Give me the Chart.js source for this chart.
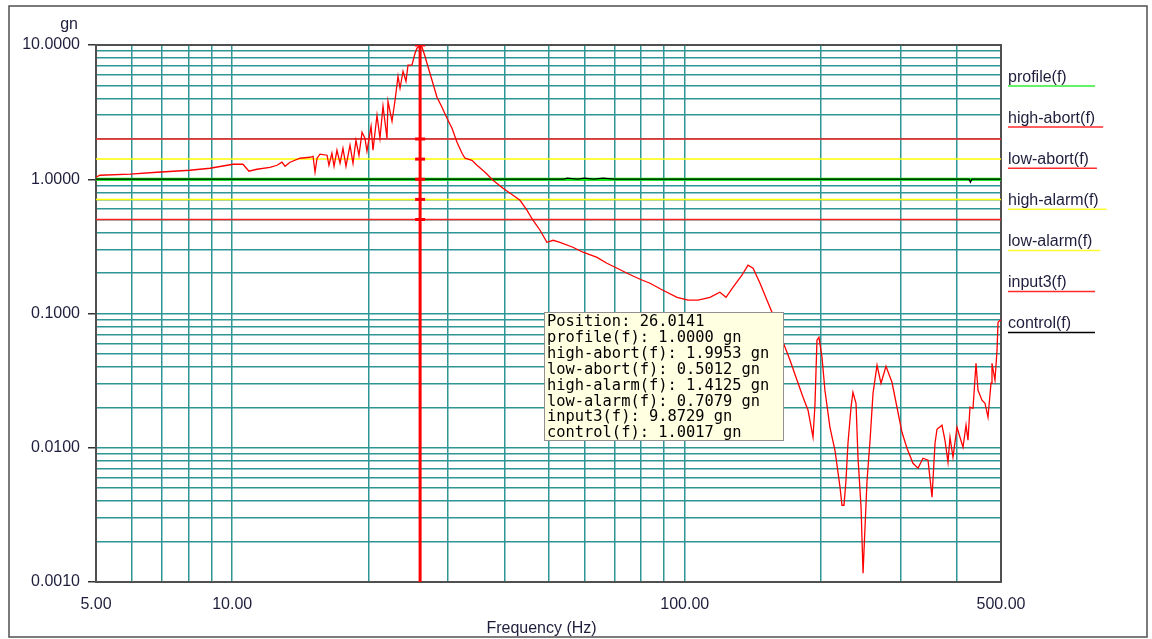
<!DOCTYPE html>
<html>
<head>
<meta charset="utf-8">
<script src="https://cdn.jsdelivr.net/npm/chart.js@4.4.1/dist/chart.umd.min.js"></script>
<style>
  body { margin: 0; background: #fff; }
  canvas { display: block; }
</style>
</head>
<body>
<canvas id="spectrumChart" width="1152" height="639"></canvas>
<script>
// axis ticks
const xTicks = [5, 6, 7, 8, 9, 10, 20, 30, 40, 50, 60, 70, 80, 90, 100, 200, 300, 400, 500];
const xLabels = [5, 10, 100, 500];
const yTicks = [0.001, 0.002, 0.003, 0.004, 0.005, 0.006, 0.007, 0.008, 0.009,
  0.01, 0.02, 0.03, 0.04, 0.05, 0.06, 0.07, 0.08, 0.09,
  0.1, 0.2, 0.3, 0.4, 0.5, 0.6, 0.7, 0.8, 0.9,
  1, 2, 3, 4, 5, 6, 7, 8, 9, 10];
const yLabels = [0.001, 0.01, 0.1, 1, 10];

// series
const seriesNames = ["profile(f)", "high-abort(f)", "low-abort(f)", "high-alarm(f)", "low-alarm(f)", "input3(f)", "control(f)"];
const seriesColors = ["#33ee33", "#ff2a2a", "#ff2a2a", "#ffff33", "#ffff33", "#ff2a2a", "#000000"];
const cursorFreq = 26.0141;
const cursorValues = [1.0, 1.9953, 0.5012, 1.4125, 0.7079, 9.8729, 1.0017];

const profileLevel = 1.0;
const highAbort = 1.9953;
const lowAbort = 0.5012;
const highAlarm = 1.4125;
const lowAlarm = 0.7079;

const controlFreq = [5, 40, 54, 55, 58, 60, 63, 66, 70, 300, 425, 428, 431, 500];
const controlGn = [1.0017, 1.0017, 1.0017, 1.02, 1.0017, 1.02, 1.0017, 1.02, 1.0017, 1.0017, 1.0017, 0.95, 1.0017, 1.0017];

const inputFreq = [5.00, 5.10, 5.95, 6.82, 8.06, 8.93, 10.04, 10.56, 10.89, 11.34, 12.12, 12.56, 12.88, 13.08, 13.42,
  14.12, 14.86, 15.09, 15.24, 15.40, 15.63, 16.20, 16.36, 16.61, 16.79, 17.04, 17.31, 17.57, 17.84, 18.21,
  18.49, 18.77, 19.06, 19.36, 19.65, 19.85, 20.27, 20.47, 20.89, 21.21, 21.54, 21.98, 22.09, 22.55, 22.90,
  23.25, 23.49, 23.85, 24.21, 24.46, 24.96, 25.35, 25.60, 26.0141, 26.27, 26.67, 26.94, 27.64, 28.35, 29.08,
  29.83, 30.6, 31.39, 32.2, 32.7, 33.87, 34.75, 36.2, 37.7, 39.67, 41.74, 43.25, 44.8, 46.2, 47.9,
  49.6, 51.2, 53.0, 56.6, 59.6, 64.0, 67.3, 70.9, 74.6, 79.7, 83.8, 89.5, 96.2, 101.7, 107.0,
  113.7, 119.6, 123.4, 127.9, 133.8, 138.0, 141.6, 146.7, 152.0, 155.9, 166.6, 170.9, 177.1, 182.6, 187.3,
  192.1, 194.0, 196.0, 198.0, 201.1, 204.1, 209.4, 214.8, 220.4, 222.6, 224.9, 227.2, 229.5, 233.1, 235.4,
  239.1, 241.5, 245.3, 247.8, 250.3, 252.9, 256.8, 260.7, 266.1, 271.5, 278.5, 287.1, 294.5, 302.1, 309.9,
  319.5, 327.8, 336.2, 344.9, 352.0, 357.4, 361.0, 370.3, 376.0, 381.8, 385.7, 391.6, 399.7, 405.8, 412.1,
  418.5, 422.7, 427.0, 433.6, 440.3, 444.8, 453.9, 460.9, 468.0, 475.2, 477.6, 484.9, 490.0, 492.5, 497.5, 500];
const inputGn = [1.035, 1.071, 1.09, 1.128, 1.167, 1.208, 1.293, 1.293, 1.147, 1.187, 1.228, 1.271, 1.339, 1.25, 1.339,
  1.434, 1.458, 1.483, 1.128, 1.434, 1.536, 1.51, 1.271, 1.562, 1.25, 1.644, 1.316, 1.701, 1.25, 1.792,
  1.316, 1.952, 1.51, 2.239, 2.02, 1.617, 2.482, 1.644, 2.997, 2.02, 3.499, 2.02, 3.811, 2.704, 3.877,
  5.85, 4.763, 6.375, 5.37, 7.07, 7.07, 8.68, 9.46, 9.8729, 9.62, 8.25, 7.31, 5.464, 4.08, 3.44,
  2.847, 2.399, 1.886, 1.562, 1.434, 1.385, 1.271, 1.128, 0.983, 0.857, 0.760, 0.697, 0.588, 0.495, 0.417,
  0.339, 0.351, 0.339, 0.3115, 0.286, 0.262, 0.2367, 0.2173, 0.1995, 0.18, 0.168, 0.149, 0.132, 0.1256, 0.1256,
  0.132, 0.144, 0.132, 0.157, 0.1927, 0.2288, 0.2173, 0.168, 0.1256, 0.1022, 0.05605, 0.04485, 0.03183, 0.02378, 0.01903,
  0.01198, 0.02073, 0.0632, 0.0665, 0.0472, 0.02682, 0.01421, 0.00958, 0.00508, 0.00373, 0.00373, 0.00572, 0.0108, 0.02003, 0.0259,
  0.02146, 0.0085, 0.0036, 0.00116, 0.00256, 0.00572, 0.01137, 0.02547, 0.04116, 0.03022, 0.04046, 0.03075, 0.02003, 0.01304, 0.00992,
  0.00766, 0.00704, 0.00835, 0.00807, 0.00428, 0.0108, 0.01373, 0.01471, 0.01137, 0.0078, 0.01198, 0.0085, 0.01421, 0.01198, 0.01009,
  0.01471, 0.01137, 0.02003, 0.01969, 0.0426, 0.02682, 0.0226, 0.02146, 0.01688, 0.03022, 0.0426, 0.03183, 0.05325, 0.0861, 0.0889, 0.089];

const pairs = (xs, ys) => xs.map((x, i) => ({ x: x, y: ys[i] }));
const flat = (v) => [{ x: 5, y: v }, { x: 500, y: v }];
const isIn = (list, v) => list.some((l) => Math.abs(l - v) / l < 1e-6);

const TEXT = "#1e1e3c";
const GRID = "#2f9696";
const FRAME = "#505050";

// frame, titles, legend and position readout
const decorations = {
  id: "decorations",
  beforeDatasetsDraw(chart) {
    const { ctx, chartArea: a } = chart;
    ctx.save();
    ctx.strokeStyle = FRAME;
    ctx.lineWidth = 2;
    ctx.strokeRect(a.left, a.top, a.right - a.left, a.bottom - a.top);
    ctx.restore();
  },
  afterDraw(chart) {
    const { ctx, chartArea: a } = chart;
    ctx.save();
    // outer border
    ctx.strokeStyle = FRAME;
    ctx.lineWidth = 1.5;
    ctx.strokeRect(9, 6, 1138, 631);

    ctx.fillStyle = TEXT;
    ctx.font = "16px 'Liberation Sans', Arial, sans-serif";
    ctx.textBaseline = "middle";
    ctx.textAlign = "right";
    ctx.fillText("gn", 78, 25);
    ctx.textAlign = "center";
    ctx.fillText("Frequency (Hz)", (a.left + a.right) / 2 - 7, 629);

    // legend
    ctx.textAlign = "left";
    ctx.textBaseline = "alphabetic";
    seriesNames.forEach((name, i) => {
      const y = 81.5 + i * 41.1;
      ctx.fillStyle = TEXT;
      ctx.fillText(name, 1008, y);
      const w = Math.max(ctx.measureText(name).width + 8, 87);
      ctx.strokeStyle = seriesColors[i];
      ctx.lineWidth = 1.5;
      ctx.beginPath();
      ctx.moveTo(1008, y + 4.5);
      ctx.lineTo(1008 + w, y + 4.5);
      ctx.stroke();
    });

    // position readout box
    const lines = ["Position: " + cursorFreq.toFixed(4)].concat(
      seriesNames.map((n, i) => n + ": " + cursorValues[i].toFixed(4) + " gn"));
    const bx = 544, by = 312, bw = 239, bh = 128;
    ctx.fillStyle = "#ffffe1";
    ctx.fillRect(bx, by, bw, bh);
    ctx.strokeStyle = "#909090";
    ctx.lineWidth = 1;
    ctx.strokeRect(bx + 0.5, by + 0.5, bw, bh);
    ctx.fillStyle = "#000";
    ctx.font = "15.4px 'DejaVu Sans Mono', monospace";
    lines.forEach((t, i) => ctx.fillText(t, 547, 326 + i * 15.9));
    ctx.restore();
  },
};

const lineDs = (label, data, color, width, order) => ({
  label: label, data: data, borderColor: color, borderWidth: width,
  showLine: true, pointRadius: 0, order: order,
});

const ctx = document.getElementById("spectrumChart").getContext("2d");
const spectrumChart = new Chart(ctx, {
  type: "scatter",
  data: {
    datasets: [
      { label: "cursor-marks", data: cursorValues.slice(0, 5).concat([10]).map((v) => ({ x: cursorFreq, y: v })),
        showLine: false, pointStyle: "line", pointRadius: 5, borderColor: "#ff0000", borderWidth: 3, order: 0 },
      lineDs("cursor", [{ x: cursorFreq, y: 0.001 }, { x: cursorFreq, y: 10 }], "#ff0000", 3, 0),
      lineDs("input3(f)", pairs(inputFreq, inputGn), "#ff0000", 1.3, 1),
      lineDs("control(f)", pairs(controlFreq, controlGn), "#000000", 1.2, 2),
      lineDs("profile(f)", flat(profileLevel), "#00f000", 3, 3),
      lineDs("high-abort(f)", flat(highAbort), "#ff2020", 1.5, 4),
      lineDs("low-abort(f)", flat(lowAbort), "#ff2020", 1.5, 4),
      lineDs("high-alarm(f)", flat(highAlarm), "#ffff00", 1.5, 4),
      lineDs("low-alarm(f)", flat(lowAlarm), "#ffff00", 1.5, 4),
    ],
  },
  options: {
    responsive: false,
    animation: false,
    events: [],
    layout: { padding: { left: 0, top: 45, right: 151, bottom: 0 } },
    plugins: { legend: { display: false }, tooltip: { enabled: false } },
    scales: {
      x: {
        type: "logarithmic",
        min: 5,
        max: 500,
        afterFit: (s) => { s.height = 57; },
        afterBuildTicks: (s) => { s.ticks = xTicks.map((v) => ({ value: v })); },
        grid: { color: GRID, lineWidth: 1.5, drawTicks: false },
        border: { display: false },
        ticks: {
          autoSkip: false, maxRotation: 0, padding: 13, color: TEXT,
          font: { family: "'Liberation Sans', Arial, sans-serif", size: 16 },
          callback: (v) => (isIn(xLabels, v) ? v.toFixed(2) : ""),
        },
      },
      y: {
        type: "logarithmic",
        min: 0.001,
        max: 10,
        afterFit: (s) => { s.width = 96; },
        afterBuildTicks: (s) => { s.ticks = yTicks.map((v) => ({ value: v })); },
        grid: {
          color: GRID, lineWidth: 1.5, drawTicks: true, tickLength: 8,
          tickColor: (c) => (c.tick && isIn(yLabels, c.tick.value) ? "#333" : "rgba(0,0,0,0)"),
        },
        border: { display: false },
        ticks: {
          autoSkip: false, padding: 8, color: TEXT,
          font: { family: "'Liberation Sans', Arial, sans-serif", size: 16 },
          callback: (v) => (isIn(yLabels, v) ? v.toFixed(4) : ""),
        },
      },
    },
  },
  plugins: [decorations],
});
</script>
</body>
</html>
